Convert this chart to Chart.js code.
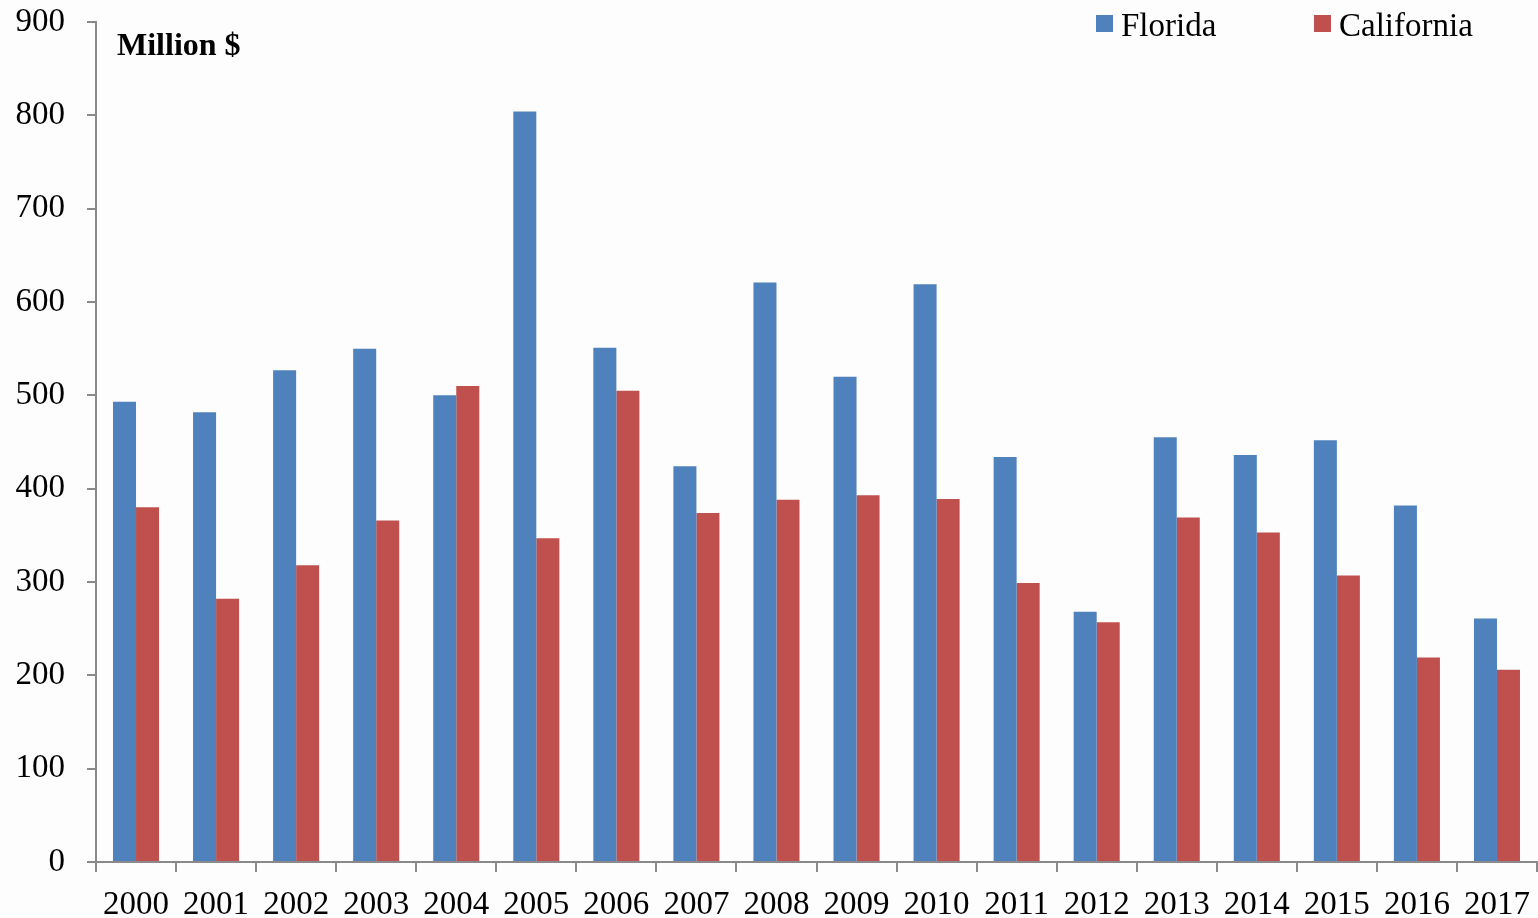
<!DOCTYPE html>
<html>
<head>
<meta charset="utf-8">
<script src="https://cdn.jsdelivr.net/npm/chart.js@4/dist/chart.umd.min.js"></script>
<style>
    html, body { margin: 0; padding: 0; background: #fdfdfd; }
    #wrap { width: 1538px; height: 918px; }
</style>
</head>
<body>
<div id="wrap"><canvas id="chart" width="1538" height="918"></canvas></div>
<script>
// Datos del gráfico
const years = ['2000', '2001', '2002', '2003', '2004', '2005', '2006', '2007', '2008',
               '2009', '2010', '2011', '2012', '2013', '2014', '2015', '2016', '2017'];
const florida = [493, 482, 527, 550, 500, 804, 551, 424, 621, 520, 619, 434, 268, 455, 436, 452, 382, 261];
const california = [380, 282, 318, 366, 510, 347, 505, 374, 388, 393, 389, 299, 257, 369, 353, 307, 219, 206];
const yMin = 0, yMax = 900, yStep = 100;
const unitLabel = 'Million $';

const FONT = "'Liberation Serif', serif";
const AXIS = '#8a8a8a';

// Leyenda y etiqueta de unidades dibujadas dentro del área del gráfico
const overlay = {
    id: 'overlay',
    afterDraw(chart) {
        const ctx = chart.ctx;
        const area = chart.chartArea;
        ctx.save();
        ctx.fillStyle = '#000';
        ctx.font = 'bold 32px ' + FONT;
        ctx.textBaseline = 'alphabetic';
        ctx.textAlign = 'left';
        ctx.fillText(unitLabel, area.left + 21, area.top + 33);

        ctx.font = '33px ' + FONT;
        const starts = [area.right - 441, area.right - 223];
        chart.data.datasets.forEach((ds, i) => {
            const x = starts[i];
            ctx.fillStyle = ds.backgroundColor;
            ctx.fillRect(x, area.top - 7, 17, 17);
            ctx.fillStyle = '#000';
            ctx.fillText(ds.label, x + 25, area.top + 14);
        });
        ctx.restore();
    }
};

new Chart(document.getElementById('chart'), {
    type: 'bar',
    data: {
        labels: years,
        datasets: [{
            label: 'Florida',
            data: florida,
            backgroundColor: '#4f81bd',
            categoryPercentage: 0.575,
            barPercentage: 1
        }, {
            label: 'California',
            data: california,
            backgroundColor: '#c0504d',
            categoryPercentage: 0.575,
            barPercentage: 1
        }]
    },
    options: {
        responsive: false,
        animation: false,
        layout: { padding: { top: 22, right: 1, bottom: 0, left: 0 } },
        plugins: {
            legend: { display: false },
            tooltip: { enabled: false }
        },
        scales: {
            x: {
                grid: {
                    offset: true,
                    drawOnChartArea: false,
                    drawTicks: true,
                    tickLength: 10,
                    color: AXIS,
                    lineWidth: 2
                },
                border: { color: AXIS, width: 2 },
                ticks: {
                    color: '#000',
                    padding: 14,
                    maxRotation: 0,
                    autoSkip: false,
                    font: { family: FONT, size: 33 }
                },
                afterFit(scale) {
                    scale.height = 56;
                    scale.paddingLeft = 0;
                    scale.paddingRight = 0;
                }
            },
            y: {
                min: yMin,
                max: yMax,
                grid: {
                    drawOnChartArea: false,
                    drawTicks: true,
                    tickLength: 9,
                    color: AXIS,
                    lineWidth: 2
                },
                border: { color: AXIS, width: 2 },
                ticks: {
                    stepSize: yStep,
                    color: '#000',
                    padding: 22,
                    font: { family: FONT, size: 33 }
                },
                afterFit(scale) {
                    scale.width = 96;
                    scale.paddingTop = 0;
                    scale.paddingBottom = 0;
                }
            }
        }
    },
    plugins: [overlay]
});
</script>
</body>
</html>
